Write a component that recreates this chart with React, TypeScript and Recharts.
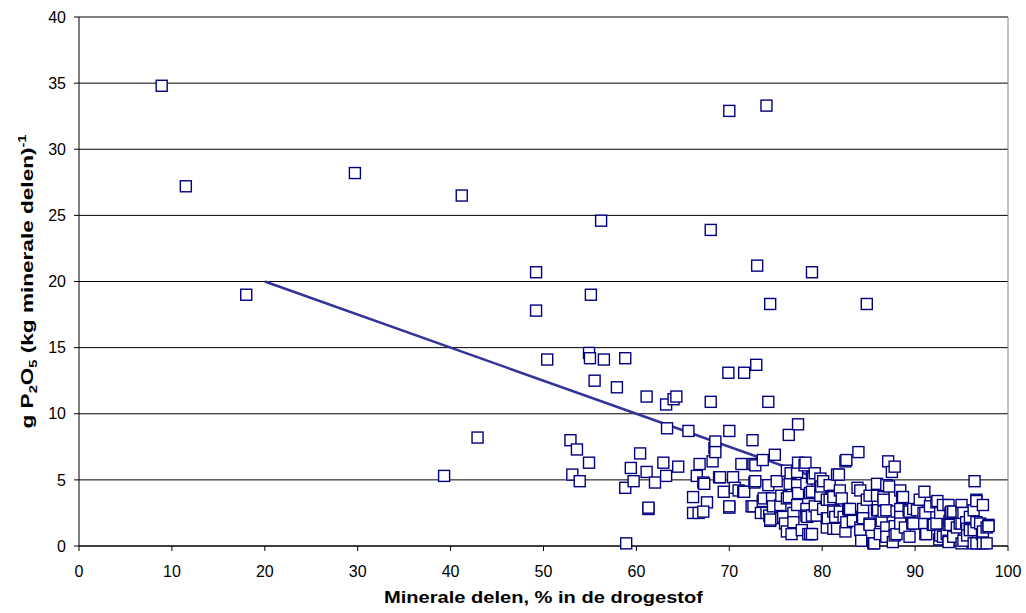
import React from 'react';
import { ScatterChart, Scatter, XAxis, YAxis, CartesianGrid, ReferenceLine, Label } from 'recharts';

const FONT = '"Liberation Sans", Arial, sans-serif';

const xTicks = [0, 10, 20, 30, 40, 50, 60, 70, 80, 90, 100];
const yTicks = [0, 5, 10, 15, 20, 25, 30, 35, 40];

// trend line (x, y) end points
const trendX = [20, 80];
const trendY = [20, 5];

// [mineral % , g P2O5 per kg mineral]
const outliers: [number, number][] = [
  [8.9, 34.8], [11.5, 27.2], [18.0, 19.0], [29.7, 28.2], [39.3, 5.3], [41.2, 26.5], [42.9, 8.2],
  [49.2, 20.7], [49.2, 17.8], [50.4, 14.1], [54.9, 14.6], [55.0, 14.2], [55.1, 19.0], [55.5, 12.5],
  [56.2, 24.6], [56.5, 14.1], [57.9, 12.0], [58.8, 14.2], [61.1, 11.3], [63.2, 10.7], [64.0, 11.1],
  [64.3, 11.3], [68.0, 23.9], [68.0, 10.9], [69.9, 13.1], [70.0, 32.9], [71.6, 13.1], [72.9, 13.7],
  [73.0, 21.2], [74.0, 33.3], [74.4, 18.3], [74.2, 10.9], [78.9, 20.7], [84.8, 18.3],
];

const clusterWest: [number, number][] = [
  [52.9, 8.0], [53.6, 7.3], [53.1, 5.4], [53.9, 4.9], [54.9, 6.3], [58.8, 4.4], [58.9, 0.2],
  [59.4, 5.9], [59.7, 4.9], [60.4, 7.0], [61.1, 5.6], [61.3, 2.8], [61.3, 2.9], [62.0, 4.8],
  [62.9, 6.3], [63.2, 5.3], [63.3, 8.9], [64.5, 6.0], [65.6, 8.7], [66.1, 3.7], [66.1, 2.5],
  [66.5, 5.3], [66.7, 2.5], [66.8, 6.2], [67.2, 4.8], [67.3, 4.7], [67.6, 3.3], [67.2, 2.6],
  [68.2, 6.4], [68.4, 7.4], [68.5, 7.9], [68.5, 7.1], [68.9, 5.2], [69.0, 5.2], [69.4, 4.1],
  [70.0, 8.7], [70.0, 2.9], [70.0, 3.0], [70.4, 5.2], [70.6, 4.4], [71.0, 4.2], [71.3, 6.2],
  [71.5, 4.1], [71.6, 4.1], [72.5, 8.0], [72.4, 3.0], [72.6, 6.2], [72.6, 3.0], [72.7, 4.8],
  [72.8, 6.1], [72.8, 4.9],
];

const clusterMid: [number, number][] = [
  [73.4, 2.5], [73.6, 6.5], [73.6, 3.4], [73.7, 3.6], [74.0, 2.5], [74.2, 4.6], [74.3, 2.3],
  [74.4, 1.9], [74.4, 2.0], [74.6, 3.6], [74.7, 3.0], [74.9, 6.9], [75.1, 4.9], [75.5, 3.1],
  [75.6, 3.8], [75.6, 2.1], [75.8, 2.2], [76.0, 1.7], [76.2, 5.7], [76.2, 3.6], [76.2, 1.1],
  [76.4, 8.4], [76.4, 3.7], [76.5, 4.7], [76.6, 5.5], [76.7, 0.9], [76.9, 2.5], [76.9, 1.8],
  [77.3, 5.6], [77.3, 4.6], [77.3, 3.1], [77.4, 9.2], [77.4, 6.3], [77.4, 4.0], [77.8, 1.2],
  [78.1, 6.1], [78.2, 6.3], [78.3, 4.7], [78.3, 2.8], [78.3, 2.3], [78.4, 2.2], [78.5, 0.9],
  [78.7, 4.0], [78.7, 0.9], [78.9, 5.2], [78.9, 4.1], [78.9, 2.3], [78.9, 0.9], [79.0, 5.1],
  [79.2, 5.5], [79.2, 3.0], [79.4, 2.3], [79.8, 5.1], [79.8, 4.4], [79.8, 3.8], [79.9, 4.5],
  [80.1, 4.9], [80.1, 2.8], [80.5, 3.5], [80.5, 2.1], [80.5, 1.4], [80.6, 2.1], [80.8, 4.6],
  [80.8, 3.5], [81.2, 3.8], [81.2, 3.7], [81.2, 2.7], [81.2, 2.6], [81.2, 1.3], [81.4, 2.2],
  [81.6, 5.4], [81.6, 1.3], [81.8, 5.4], [81.9, 4.2], [81.9, 2.6], [82.1, 3.6], [82.3, 2.2],
  [82.5, 6.4], [82.5, 1.1], [82.6, 6.5], [82.6, 1.8], [82.8, 2.8], [82.9, 2.7], [83.0, 2.8],
];

const clusterEast: [number, number][] = [
  [83.3, 1.9], [83.8, 4.4], [83.9, 7.1], [84.1, 4.2], [84.1, 1.4], [84.1, 1.2], [84.2, 0.4],
  [84.3, 2.2], [84.4, 2.8], [84.4, 2.1], [84.8, 3.5], [85.1, 3.8], [85.1, 1.7], [85.1, 1.6],
  [85.5, 0.2], [85.6, 0.2], [85.9, 4.7], [85.9, 3.8], [85.9, 2.7], [86.0, 2.7], [86.2, 0.9],
  [86.4, 1.9], [86.6, 3.7], [86.6, 3.5], [86.6, 2.6], [86.9, 4.6], [86.9, 2.7], [86.9, 1.4],
  [86.9, 0.7], [87.1, 6.4], [87.2, 4.5], [87.5, 5.6], [87.6, 0.3], [87.8, 6.0], [87.8, 1.5],
  [87.8, 0.8], [88.0, 2.6], [88.0, 0.9], [88.4, 4.2], [88.4, 2.8], [88.4, 2.2], [88.4, 1.7],
  [88.6, 3.7], [88.7, 3.7], [88.9, 1.4], [89.3, 2.7], [89.4, 2.6], [89.4, 0.7], [89.7, 1.7],
  [89.8, 2.8], [89.8, 1.7], [90.2, 2.7], [90.5, 3.5], [90.9, 2.5], [91.0, 4.1], [91.1, 2.5],
  [91.1, 0.9], [91.2, 0.9], [91.6, 3.0], [91.9, 1.6], [92.0, 1.6], [92.3, 3.3], [92.3, 1.7],
  [92.4, 3.4], [92.6, 0.5], [92.7, 2.5], [92.7, 0.8], [93.0, 3.1], [93.0, 0.7], [93.4, 0.9],
  [93.6, 3.1], [93.6, 1.6], [93.6, 0.4], [93.6, 0.3], [93.7, 1.9], [93.8, 2.5], [93.8, 1.6],
  [93.9, 2.6], [94.1, 2.6], [94.1, 0.7], [94.5, 1.4], [94.8, 1.7], [95.0, 3.1], [95.0, 2.5],
  [95.0, 1.7], [95.0, 0.2], [95.2, 2.5], [95.2, 0.4], [95.5, 1.8], [95.6, 1.3], [95.6, 0.8],
  [95.9, 2.2], [95.9, 1.3], [95.9, 1.2], [96.3, 2.7], [96.3, 1.2], [96.3, 0.2], [96.4, 4.9],
  [96.6, 3.5], [96.6, 3.4], [96.6, 1.8], [96.6, 0.2], [97.0, 1.7], [97.2, 0.9], [97.3, 3.1],
  [97.3, 1.1], [97.3, 0.2], [97.7, 1.4], [97.7, 0.2], [97.9, 1.6], [97.9, 1.5],
];

const toPoints = (arr: [number, number][]) => arr.map(([x, y]) => ({ x, y }));
const pointData = [...toPoints(outliers), ...toPoints(clusterWest), ...toPoints(clusterMid), ...toPoints(clusterEast)];
const trendData = trendX.map((x, i) => ({ x, y: trendY[i] }));

const Square = (props: any) => {
  const { cx, cy } = props;
  if (cx == null || cy == null) return <g />;
  return <rect x={cx - 5.5} y={cy - 5.5} width={11} height={11} fill="#fff" stroke="#000080" strokeWidth={1.4} />;
};

const NoShape = () => <g />;

const XTick = (props: any) => {
  const { x, y, payload } = props;
  return (
    <text x={x} y={y} dy={16} textAnchor="middle" fontSize={16} fontFamily={FONT} fill="#000">
      {payload.value}
    </text>
  );
};

const YTick = (props: any) => {
  const { x, y, payload } = props;
  return (
    <text x={x} y={y} dy={5.7} textAnchor="end" fontSize={16} fontFamily={FONT} fill="#000">
      {payload.value}
    </text>
  );
};

const XTitle = (props: any) => {
  const vb = props.viewBox || { x: 79, y: 546, width: 929 };
  return (
    <text
      x={vb.x + vb.width / 2}
      y={vb.y + 57}
      textAnchor="middle"
      fontSize={17}
      fontWeight="bold"
      fontFamily={FONT}
      fill="#000"
      textLength={319}
      lengthAdjust="spacingAndGlyphs"
    >
      Minerale delen, % in de drogestof
    </text>
  );
};

const YTitle = (props: any) => {
  const vb = props.viewBox || { x: 0, y: 17, height: 529 };
  const cy = vb.y + vb.height / 2;
  return (
    <text
      transform={`translate(33, ${cy}) rotate(-90)`}
      textAnchor="middle"
      fontSize={17}
      fontWeight="bold"
      fontFamily={FONT}
      fill="#000"
      textLength={294}
      lengthAdjust="spacingAndGlyphs"
    >
      g P<tspan fontSize={11} dy={4}>2</tspan>
      <tspan dy={-4}>O</tspan>
      <tspan fontSize={11} dy={4}>5</tspan>
      <tspan dy={-4}>{' (kg minerale delen)'}</tspan>
      <tspan fontSize={11} dy={-7}>-1</tspan>
    </text>
  );
};

export default function App() {
  return (
    <div style={{ position: 'absolute', left: 0, top: 0, width: 1026, height: 613, background: '#fff' }}>
      <ScatterChart width={1026} height={613} margin={{ top: 17, right: 18, bottom: 37, left: 0 }}>
        <CartesianGrid vertical={false} stroke="#000" strokeWidth={1} />
        <XAxis
          type="number"
          dataKey="x"
          domain={[0, 100]}
          ticks={xTicks}
          interval={0}
          height={30}
          tickSize={5}
          tickMargin={10}
          tick={<XTick />}
          axisLine={{ stroke: '#000' }}
          tickLine={{ stroke: '#000' }}
        >
          <Label content={<XTitle />} />
        </XAxis>
        <YAxis
          type="number"
          dataKey="y"
          domain={[0, 40]}
          ticks={yTicks}
          interval={0}
          width={79}
          tickSize={5}
          tickMargin={8}
          tick={<YTick />}
          axisLine={{ stroke: '#000' }}
          tickLine={{ stroke: '#000' }}
        >
          <Label content={<YTitle />} />
        </YAxis>
        <ReferenceLine y={40} stroke="#808080" />
        <ReferenceLine x={100} stroke="#808080" />
        <Scatter
          data={trendData}
          fill="#333399"
          stroke="#333399"
          line={{ stroke: '#333399', strokeWidth: 2.5 }}
          shape={<NoShape />}
          isAnimationActive={false}
        />
        <Scatter data={pointData} shape={<Square />} isAnimationActive={false} />
      </ScatterChart>
    </div>
  );
}
